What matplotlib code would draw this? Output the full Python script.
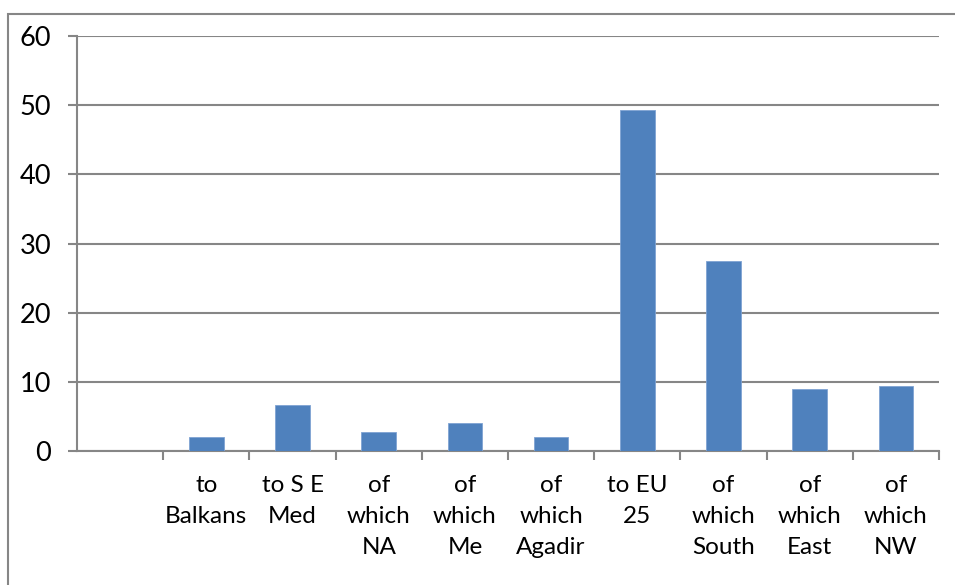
import matplotlib.pyplot as plt
from matplotlib.patches import Rectangle

plt.rcParams['font.family'] = ['Lato', 'DejaVu Sans']

categories = ["", "to\nBalkans", "to S E\nMed", "of\nwhich\nNA", "of\nwhich\nMe",
              "of\nwhich\nAgadir", "to EU\n25", "of\nwhich\nSouth", "of\nwhich\nEast",
              "of\nwhich\nNW"]
values = [0, 2.0, 6.7, 2.7, 4.0, 2.0, 49.3, 27.4, 9.0, 9.4]
yticks = [0, 10, 20, 30, 40, 50, 60]

grey = "#868686"
blue = "#4F81BD"

fig = plt.figure(figsize=(9.55, 5.85), dpi=100)
ax = fig.add_axes([77 / 955, 134 / 585, 862 / 955, 415 / 585])

x = list(range(len(categories)))
ax.bar(x[1:], values[1:], width=0.4, color=blue, edgecolor="#7FA3D3", linewidth=0.6, zorder=3)

ax.set_xlim(-0.5, len(categories) - 0.5)
ax.set_ylim(0, 60)
ax.set_yticks(yticks)
ax.set_yticklabels([str(v) for v in yticks], fontsize=19.5)
ax.yaxis.grid(True, color=grey, linewidth=1.5)
ax.set_axisbelow(True)

ax.set_xticks(x)
ax.set_xticklabels(categories, fontsize=17.5, linespacing=1.6, va="top")
ax.tick_params(axis="x", which="major", length=0, pad=17)
ax.set_xticks([i + 0.5 for i in range(len(categories))], minor=True)
ax.tick_params(axis="x", which="minor", length=6.5, width=1.5, color=grey, direction="out")
ax.tick_params(axis="y", length=6.5, width=1.5, color=grey, pad=12)

for s in ["top", "right"]:
    ax.spines[s].set_visible(False)
for s in ["left", "bottom"]:
    ax.spines[s].set_color(grey)
    ax.spines[s].set_linewidth(1.5)

# outer chart frame (cut off at right and bottom)
fig.patches.append(Rectangle((8 / 955, -0.1), 1.2, (585 - 14) / 585 + 0.1,
                             transform=fig.transFigure, fill=False,
                             edgecolor=grey, linewidth=1.5))

fig.savefig("out.png", dpi=100)
